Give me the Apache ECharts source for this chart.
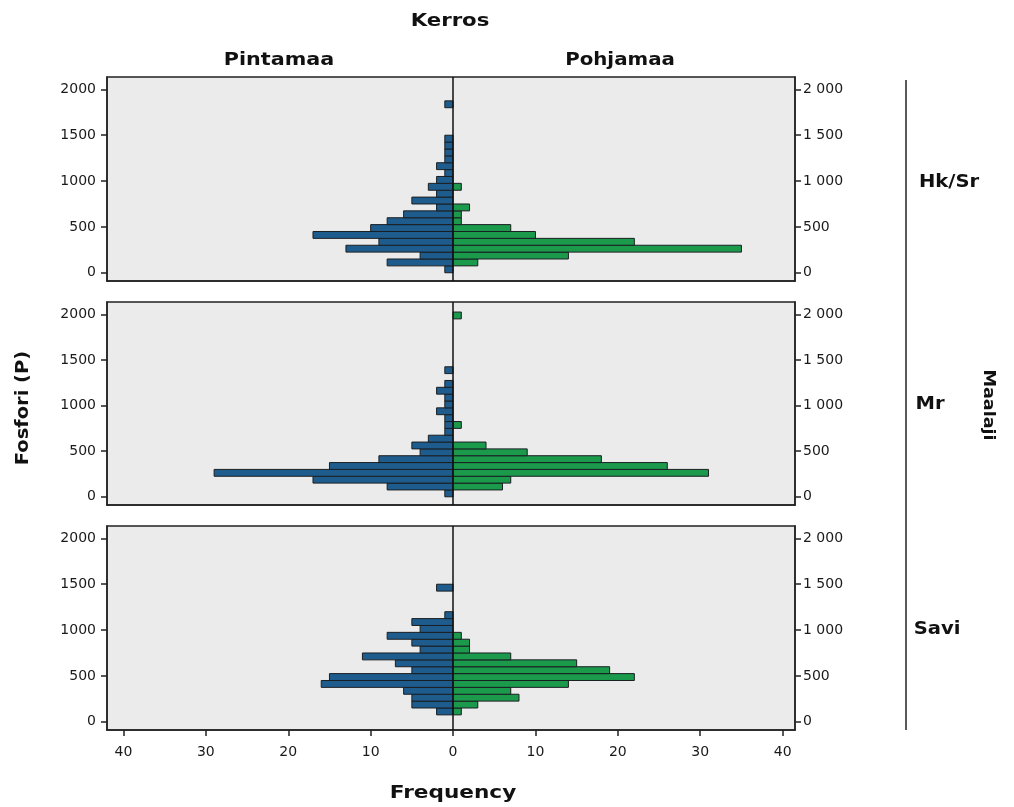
<!DOCTYPE html>
<html lang="fi">
  <head>
    <meta charset="UTF-8" />
    <title>Fosfori</title>
    <style>
      html, body { margin: 0; padding: 0; background: #fff; }
      main { width: 1014px; height: 807px; }
    </style>
    <script src="https://cdn.jsdelivr.net/npm/echarts@6/dist/echarts.min.js"></script>
  </head>
  <body>
    <main id="chart"></main>
    <script>
      // histogram bins are 75 units wide, index k = [k*75, (k+1)*75)
      const binWidth = 75;
      const panels = ["Hk/Sr", "Mr", "Savi"];
      const groups = ["Pintamaa", "Pohjamaa"];
      const xTicks = [-40, -30, -20, -10, 0, 10, 20, 30, 40];
      const yTicks = [0, 500, 1000, 1500, 2000];

      const hkPinta = [1, 8, 4, 13, 9, 17, 10, 8, 6, 2, 5, 2, 3, 2, 1, 2, 1, 1, 1, 1, 0, 0, 0, 0, 1];
      const hkPohja = [0, 3, 14, 35, 22, 10, 7, 1, 1, 2, 0, 0, 1];
      const mrPinta = [1, 8, 17, 29, 15, 9, 4, 5, 3, 1, 1, 1, 2, 1, 1, 2, 1, 0, 1];
      const mrPohja = [0, 6, 7, 31, 26, 18, 9, 4, 0, 0, 1, 0, 0, 0, 0, 0, 0, 0, 0, 0, 0, 0, 0, 0, 0, 0, 1];
      const saviPinta = [0, 2, 5, 5, 6, 16, 15, 5, 7, 11, 4, 5, 8, 4, 5, 1, 0, 0, 0, 2];
      const saviPohja = [0, 1, 3, 8, 7, 14, 22, 19, 15, 7, 2, 2, 1];

      const pinta = [hkPinta, mrPinta, saviPinta];
      const pohja = [hkPohja, mrPohja, saviPohja];

      const blue = "#1f5c8e";
      const green = "#1b9a4c";
      const tickFont = "DejaVu Sans, sans-serif";
      const titleFont = "DejaVu Sans, sans-serif";

      function toBins(counts, sign) {
        const out = [];
        counts.forEach(function (c, k) {
          if (c > 0) out.push([k * binWidth, (k + 1) * binWidth, sign * c]);
        });
        return out;
      }

      function renderBar(color) {
        return function (params, api) {
          const p0 = api.coord([0, api.value(0)]);
          const p1 = api.coord([api.value(2), api.value(1)]);
          return {
            type: "rect",
            shape: {
              x: Math.min(p0[0], p1[0]),
              y: p1[1],
              width: Math.abs(p1[0] - p0[0]),
              height: p0[1] - p1[1],
            },
            style: { fill: color, stroke: "#1a1f22", lineWidth: 1 },
          };
        };
      }

      const gridTops = [77, 302, 526];
      const gridHeights = [204, 203, 204];

      const grid = [], xAxis = [], yAxis = [], series = [];
      panels.forEach(function (name, i) {
        grid.push({
          left: 107, right: 219, top: gridTops[i], height: gridHeights[i],
          show: true, backgroundColor: "#ebebeb", borderColor: "#222", borderWidth: 1.5,
        });
        const last = i === panels.length - 1;
        xAxis.push({
          type: "value", gridIndex: i, min: -42, max: 41.5,
          splitLine: { show: false },
          axisLine: { show: true, onZero: false, lineStyle: { color: "#222", width: 1.5 } },
          axisTick: { show: last, customValues: xTicks, length: 6, lineStyle: { color: "#222", width: 1.5 } },
          axisLabel: {
            show: last, customValues: xTicks, margin: 15,
            color: "#1a1a1a", fontSize: 14, fontFamily: tickFont,
            formatter: function (v) { return Math.abs(v); },
          },
        });
        [false, true].forEach(function (right) {
          yAxis.push({
            type: "value", gridIndex: i, min: -90, max: 2135,
            position: right ? "right" : "left",
            splitLine: { show: false },
            axisLine: { show: true, onZero: false, lineStyle: { color: "#222", width: 1.5 } },
            axisTick: { show: true, customValues: yTicks, length: 6, lineStyle: { color: "#222", width: 1.5 } },
            axisLabel: {
              customValues: yTicks, margin: right ? 8 : 11,
              color: "#1a1a1a", fontSize: 14, fontFamily: tickFont,
              formatter: right
                ? function (v) { return v >= 1000 ? String(v).replace(/(\d{3})$/, " $1") : v; }
                : function (v) { return v; },
            },
          });
        });
        series.push({
          name: groups[0], type: "custom", xAxisIndex: i, yAxisIndex: i * 2,
          renderItem: renderBar(blue), encode: { x: 2, y: [0, 1] },
          data: toBins(pinta[i], -1),
        });
        series.push({
          name: groups[1], type: "custom", xAxisIndex: i, yAxisIndex: i * 2,
          renderItem: renderBar(green), encode: { x: 2, y: [0, 1] },
          data: toBins(pohja[i], 1),
          markLine: {
            silent: true, symbol: "none", label: { show: false },
            lineStyle: { color: "#111", width: 1.5, type: "solid" },
            data: [{ xAxis: 0 }],
          },
        });
      });

      function label(text, x, y, size, extra) {
        return Object.assign({
          type: "text", x: x, y: y,
          style: {
            text: text, fontSize: size, fontWeight: "bold", fontFamily: titleFont,
            fill: "#111", align: "center", verticalAlign: "middle",
          },
        }, extra || {});
      }

      const graphic = [
        label("Kerros", 450, 22, 17, { scaleX: 1.25 }),
        label(groups[0], 279, 60, 18, { scaleX: 1.15 }),
        label(groups[1], 620, 60, 18, { scaleX: 1.1 }),
        label("Frequency", 453, 793, 18, { scaleX: 1.2 }),
        label("Fosfori (P)", 23, 408, 18, { rotation: Math.PI / 2, scaleX: 1.08 }),
        label("Maalaji", 988, 405, 16, { rotation: -Math.PI / 2, scaleX: 1.1 }),
        { type: "line", shape: { x1: 906, y1: 80, x2: 906, y2: 730 }, style: { stroke: "#222", lineWidth: 1.5 } },
      ];
      const panelLabelX = [949, 930, 937];
      const panelLabelY = [183, 405, 630];
      panels.forEach(function (name, i) {
        graphic.push(label(name, panelLabelX[i], panelLabelY[i], 17, { scaleX: 1.15 }));
      });

      const chart = echarts.init(document.getElementById("chart"));
      chart.setOption({
        animation: false,
        backgroundColor: "#fff",
        grid: grid,
        xAxis: xAxis,
        yAxis: yAxis,
        series: series,
        graphic: graphic,
      });
    </script>
  </body>
</html>
